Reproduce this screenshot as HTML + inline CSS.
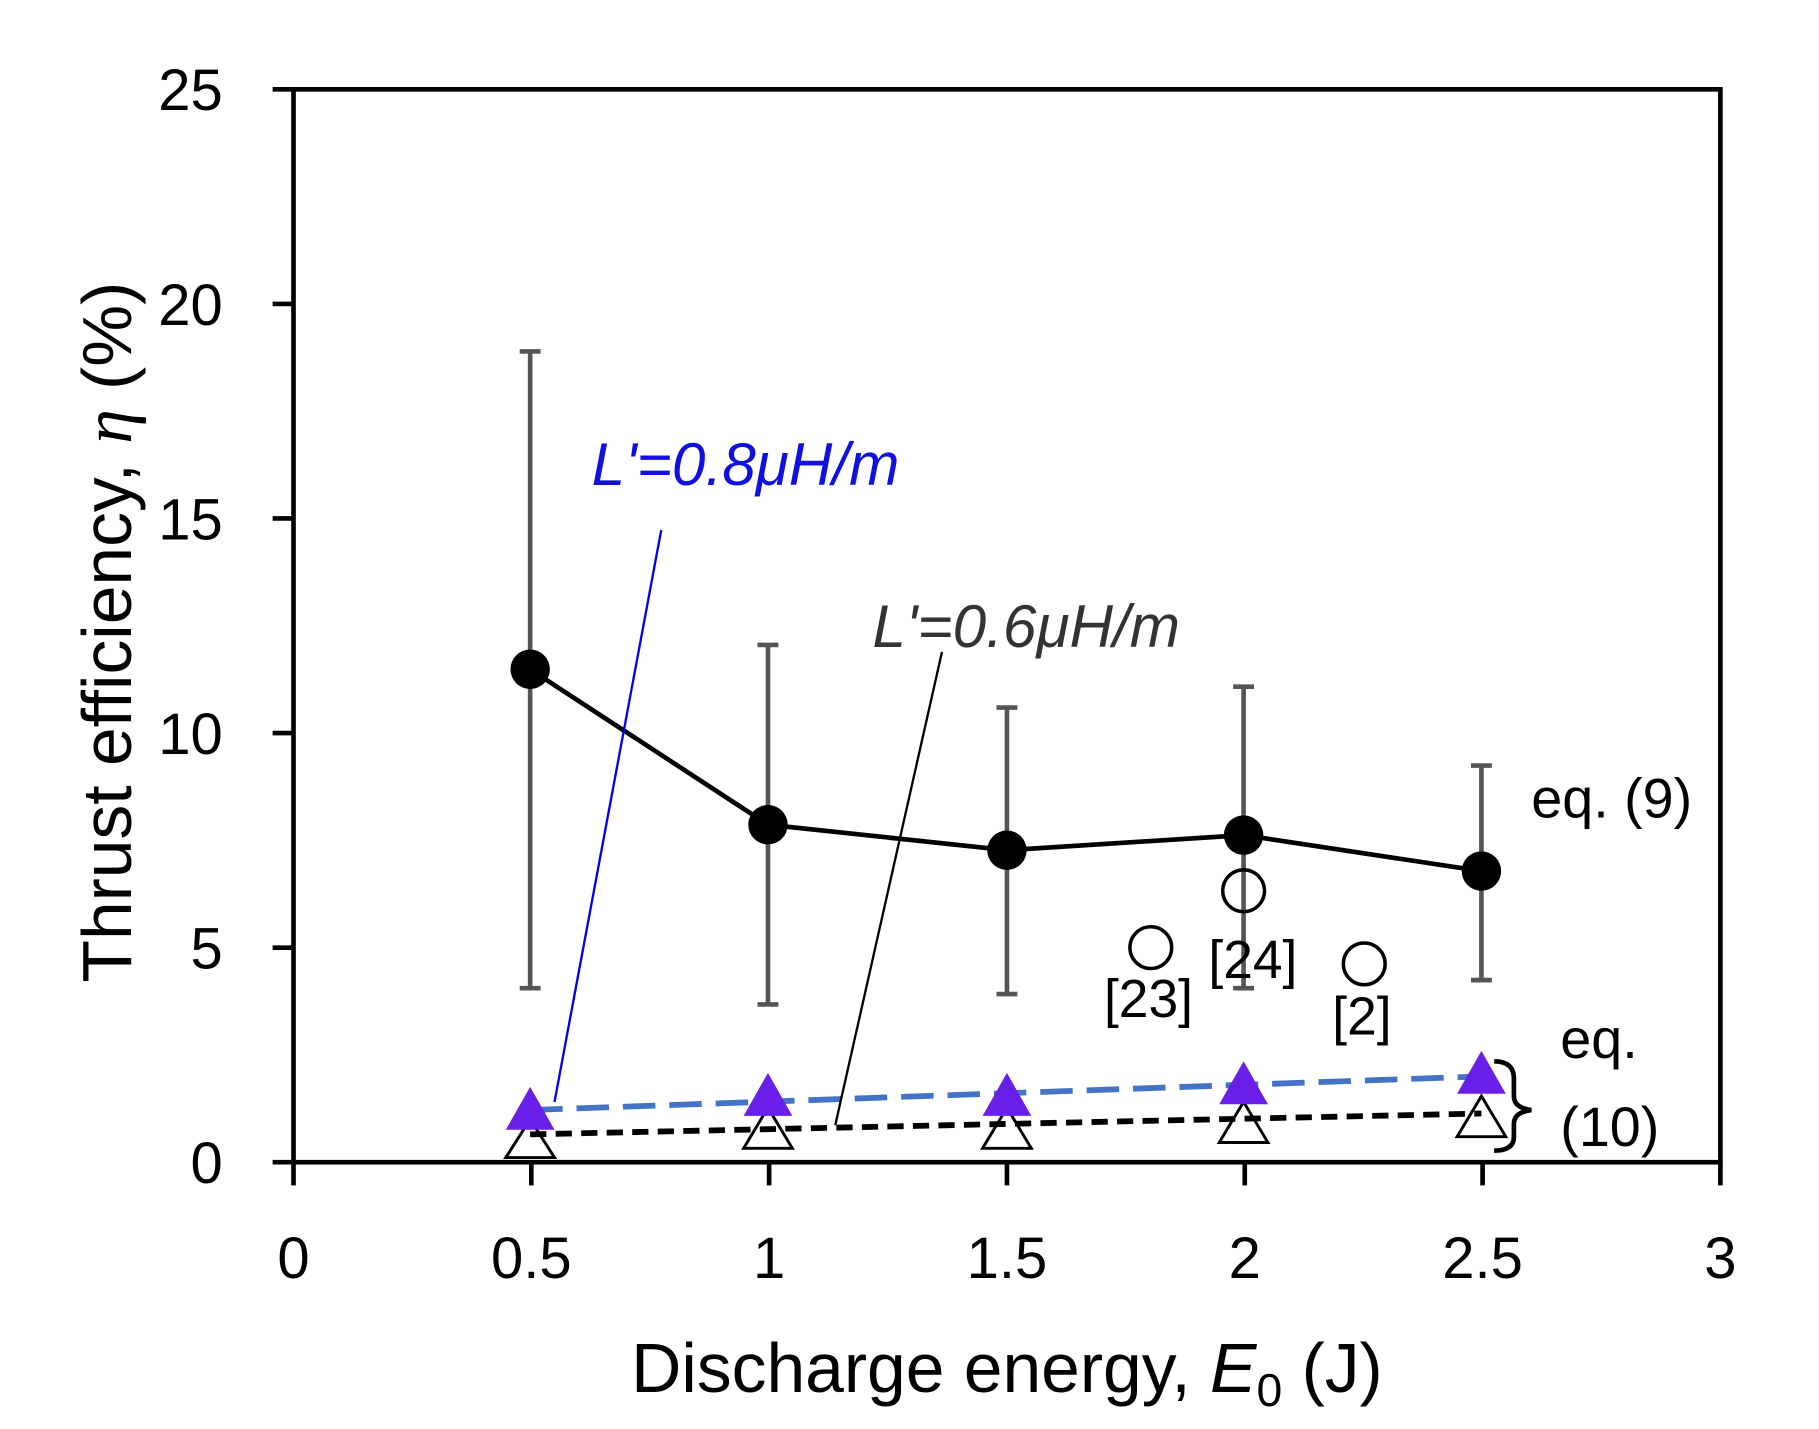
<!DOCTYPE html>
<html><head><style>html,body{margin:0;padding:0;background:#fff}svg{display:block}</style></head>
<body>
<svg width="1819" height="1429" viewBox="0 0 1568 1232" preserveAspectRatio="none" font-family="Liberation Sans, DejaVu Sans, sans-serif">
<rect x="253" y="77" width="1230" height="925" fill="none" stroke="#000" stroke-width="4"/>
<g stroke="#000" stroke-width="4">
<line x1="235" y1="77" x2="253" y2="77"/><line x1="235" y1="262" x2="253" y2="262"/><line x1="235" y1="447" x2="253" y2="447"/><line x1="235" y1="632" x2="253" y2="632"/><line x1="235" y1="817" x2="253" y2="817"/><line x1="235" y1="1002" x2="253" y2="1002"/>
<line x1="253" y1="1002" x2="253" y2="1022"/><line x1="458" y1="1002" x2="458" y2="1022"/><line x1="663" y1="1002" x2="663" y2="1022"/><line x1="868" y1="1002" x2="868" y2="1022"/><line x1="1073" y1="1002" x2="1073" y2="1022"/><line x1="1278" y1="1002" x2="1278" y2="1022"/><line x1="1483" y1="1002" x2="1483" y2="1022"/>
</g>
<g font-size="50" text-anchor="end" fill="#000">
<text x="192" y="95">25</text><text x="192" y="280">20</text><text x="192" y="465">15</text><text x="192" y="650">10</text><text x="192" y="835">5</text><text x="192" y="1020">0</text>
</g>
<g font-size="50" text-anchor="middle" fill="#000">
<text x="253" y="1102">0</text><text x="458" y="1102">0.5</text><text x="663" y="1102">1</text><text x="868" y="1102">1.5</text><text x="1073" y="1102">2</text><text x="1278" y="1102">2.5</text><text x="1483" y="1102">3</text>
</g>
<text x="868" y="1200" font-size="60" text-anchor="middle">Discharge energy, <tspan font-style="italic">E</tspan><tspan font-size="40" dy="12">0</tspan><tspan dy="-12"> (J)</tspan></text>
<text transform="translate(113,545) rotate(-90)" font-size="60" text-anchor="middle">Thrust efficiency,  <tspan font-style="italic" font-family="Liberation Serif, serif">η</tspan> (%)</text>
<g stroke="#555" stroke-width="4">
<line x1="457" y1="303" x2="457" y2="852"/><line x1="448" y1="303" x2="466" y2="303"/><line x1="448" y1="852" x2="466" y2="852"/>
<line x1="662" y1="556" x2="662" y2="866"/><line x1="653" y1="556" x2="671" y2="556"/><line x1="653" y1="866" x2="671" y2="866"/>
<line x1="868" y1="610" x2="868" y2="857"/><line x1="859" y1="610" x2="877" y2="610"/><line x1="859" y1="857" x2="877" y2="857"/>
<line x1="1072" y1="592" x2="1072" y2="852"/><line x1="1063" y1="592" x2="1081" y2="592"/><line x1="1063" y1="852" x2="1081" y2="852"/>
<line x1="1277" y1="660" x2="1277" y2="845"/><line x1="1268" y1="660" x2="1286" y2="660"/><line x1="1268" y1="845" x2="1286" y2="845"/>
</g>
<polyline points="457,577 662,711 868,733 1072,720 1277,751" fill="none" stroke="#000" stroke-width="4"/>
<g fill="#000"><circle cx="457" cy="577" r="17"/><circle cx="662" cy="711" r="17"/><circle cx="868" cy="733" r="17"/><circle cx="1072" cy="720" r="17"/><circle cx="1277" cy="751" r="17"/></g>
<g fill="none" stroke="#000" stroke-width="3"><circle cx="1072" cy="768" r="18"/><circle cx="992" cy="817" r="18"/><circle cx="1176" cy="831" r="18"/></g>
<g font-size="46" text-anchor="middle"><text x="990" y="877">[23]</text><text x="1080" y="843">[24]</text><text x="1174" y="892">[2]</text></g>
<g fill="#fff" stroke="#000" stroke-width="2.5">
<polygon points="457,965 436,998 478,998"/><polygon points="662,955 641,990 683,990"/><polygon points="868,955 847,990 889,990"/><polygon points="1072,950 1051,985 1093,985"/><polygon points="1277,945 1256,980 1298,980"/>
</g>
<line x1="457" y1="978" x2="1277" y2="960" stroke="#000" stroke-width="5" stroke-dasharray="14,8"/>
<line x1="457" y1="957" x2="1277" y2="928" stroke="#4472c4" stroke-width="5" stroke-dasharray="28,12"/>
<g fill="#6a1fe8">
<polygon points="457,937 436,974 478,974"/><polygon points="662,925 641,962 683,962"/><polygon points="868,925 847,962 889,962"/><polygon points="1072,915 1051,952 1093,952"/><polygon points="1277,906 1256,943 1298,943"/>
</g>
<line x1="570" y1="457" x2="478" y2="950" stroke="#0000ee" stroke-width="2"/>
<line x1="812" y1="562" x2="720" y2="970" stroke="#000" stroke-width="2"/>
<text x="510" y="418" font-size="52" font-style="italic" fill="#1010e0">L'=0.8μH/m</text>
<text x="752" y="558" font-size="52" font-style="italic" fill="#333">L'=0.6μH/m</text>
<g font-size="48"><text x="1320" y="705">eq. (9)</text><text x="1345" y="912">eq.</text><text x="1345" y="988">(10)</text></g>
<path d="M1288,915 Q1305,915 1305,930 L1305,945 Q1305,955 1320,957 Q1305,959 1305,969 L1305,980 Q1305,992 1288,992" fill="none" stroke="#000" stroke-width="4"/>
</svg>
</body></html>
